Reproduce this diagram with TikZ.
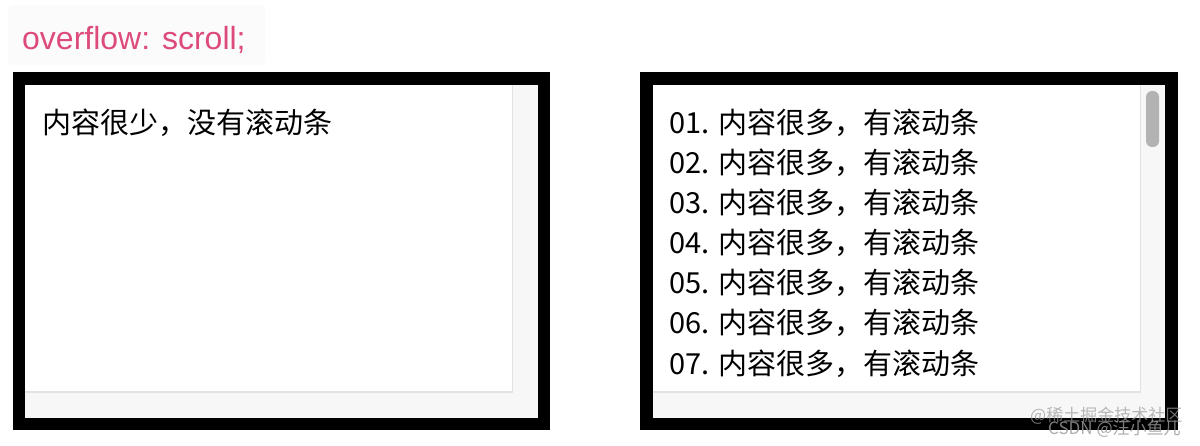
\documentclass[tikz,border=0pt]{standalone}
\usepackage{fontspec}
\setmainfont{Noto Sans CJK SC}
\newfontfamily\latinsans{Liberation Sans}
\definecolor{cssPink}{HTML}{DD4A7C}
\definecolor{trackGray}{HTML}{F7F7F7}
\definecolor{lineGray}{HTML}{E2E2E2}
\definecolor{thumbGray}{HTML}{B3B3B3}
\definecolor{labelBg}{HTML}{FBFBFB}
\definecolor{markGray}{HTML}{9A9A9A}
\begin{document}
\begin{tikzpicture}[x=1pt,y=-1pt,
  frame/.style={fill=black},
  track/.style={fill=trackGray},
  content/.style={fill=white},
  sepline/.style={draw=lineGray,line width=1pt},
  thumb/.style={fill=thumbGray,rounded corners=6pt},
  txt/.style={anchor=base west,inner sep=0pt,font=\fontsize{29}{34}\selectfont,text=black},
  wm/.style={anchor=base west,inner sep=0pt,font=\fontsize{17}{20}\selectfont,text=markGray}]
\useasboundingbox (0,0) rectangle (1200,446);
\fill[white] (0,0) rectangle (1200,446);
% faint label background
\fill[labelBg,rounded corners=4pt] (8,5) rectangle (265,65);
\node[anchor=base west,inner sep=0pt,text=cssPink,font=\latinsans\fontsize{32}{36}\selectfont] (title) at (22,50) {overflow: scroll;};
% left box
\fill[frame] (12.5,72.5) rectangle (550,430);
\fill[track] (25,85) rectangle (537.5,417.5);
\fill[content] (25,85) rectangle (512,392);
\draw[sepline] (512,85) -- (512,392) -- (25,392);
\node[txt] (few) at (42,134) {内容很少，没有滚动条};
% right box
\fill[frame] (640,72.5) rectangle (1177.5,430);
\fill[track] (652.5,85) rectangle (1165,417.5);
\fill[content] (652.5,85) rectangle (1140,392);
\draw[sepline] (1140,85) -- (1140,392) -- (652.5,392);
\fill[thumb] (1146,91) rectangle (1159,147);
\foreach \i [count=\k from 0] in {01,02,03,04,05,06,07} {
  \node[txt] (row\i) at (669,134+40*\k) {\i. 内容很多，有滚动条};
}
% watermark
\node[wm,opacity=0.7] (wm1) at (1030,421) {@稀土掘金技术社区};
\node[wm,opacity=0.8] (wm2) at (1048,434) {CSDN @汪小鱼儿};
\end{tikzpicture}
\end{document}
